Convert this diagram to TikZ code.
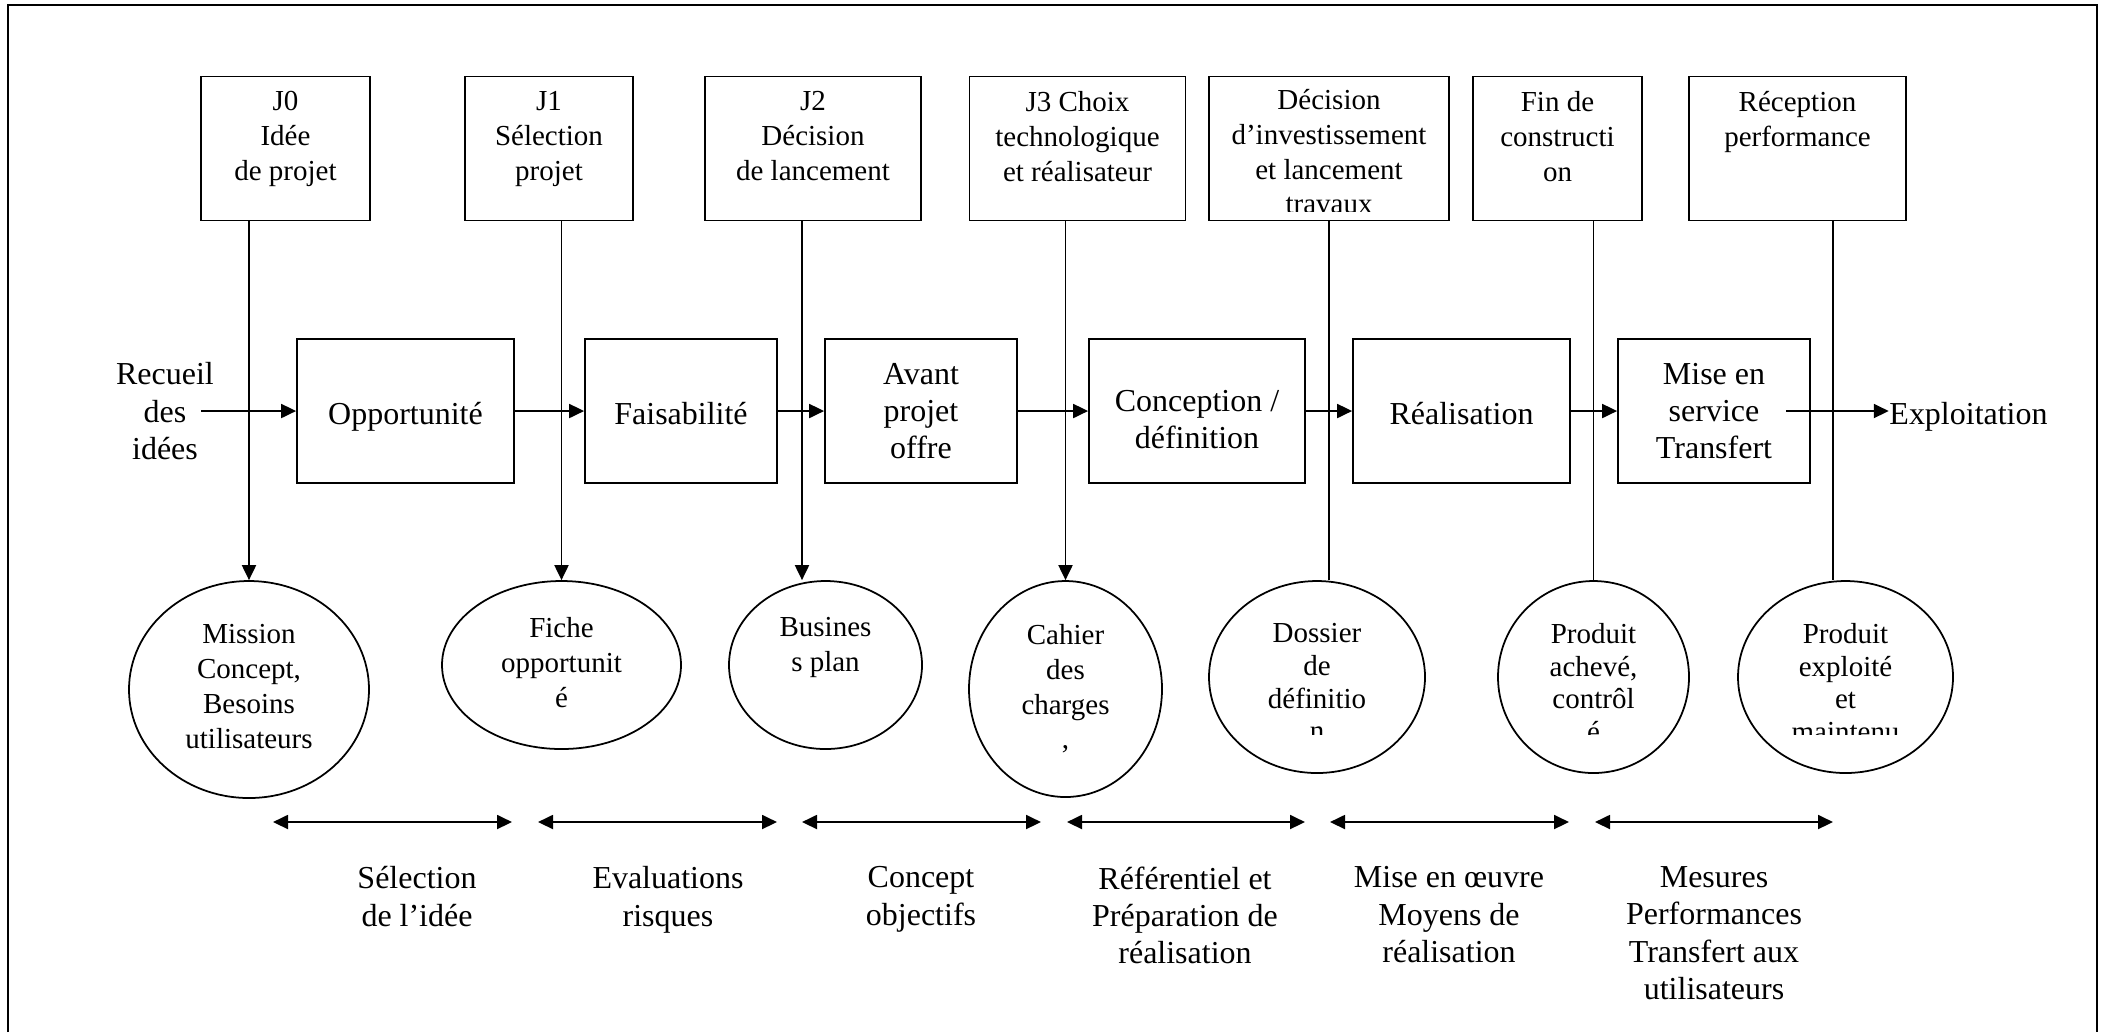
\documentclass[tikz,border=0pt]{standalone}
\usepackage{fontspec}
\setmainfont{Liberation Serif}
\usetikzlibrary{shapes.geometric,arrows.meta}

\newcommand{\smallsize}{\fontsize{8.25}{9.9}\selectfont}
\newcommand{\tightsize}{\fontsize{8.25}{9.3}\selectfont}
\newcommand{\bigsize}{\fontsize{9.1}{10.6}\selectfont}

\begin{document}
\begin{tikzpicture}[
			gate/.style={rectangle, draw, line width=0.5pt, minimum height=1.44cm, inner sep=0pt},
			phase/.style={rectangle, draw, line width=0.5pt, minimum height=1.44cm, inner sep=0pt, align=center, font=\bigsize, text depth=0pt, execute at begin node=\strut},
			deliv/.style={ellipse, draw, line width=0.5pt, inner sep=0pt},
			boxtext/.style={anchor=north, align=center, inner sep=0pt, font=\smallsize, execute at begin node=\strut},
			bigtext/.style={align=center, inner sep=0pt, font=\bigsize, text depth=0pt, execute at begin node=\strut},
			flow/.style={line width=0.55pt, -{Triangle[length=0.15cm, width=0.14cm]}},
			span/.style={line width=0.55pt, {Triangle[length=0.15cm, width=0.14cm]}-{Triangle[length=0.15cm, width=0.14cm]}}
			]
			
			\useasboundingbox (0,0) rectangle (21.07,-10.32);
			
			% Frame
			\draw[line width=0.6pt] (0.08,-10.32) |- (20.97,-0.05) -- (20.97,-10.32);
			
			% Milestones
			\node[gate, minimum width=1.69cm] (j0) at (2.855,-1.485) {};
			\node[gate, minimum width=1.68cm] (j1) at (5.49,-1.485) {};
			\node[gate, minimum width=2.16cm] (j2) at (8.13,-1.485) {};
			\node[gate, minimum width=2.16cm] (j3) at (10.775,-1.485) {};
			\node[gate, minimum width=2.40cm] (j4) at (13.29,-1.485) {};
			\node[gate, minimum width=1.69cm] (j5) at (15.575,-1.485) {};
			\node[gate, minimum width=2.17cm] (j6) at (17.975,-1.485) {};
			
			\node[boxtext] (j0t) at ([yshift=-0.15cm]j0.north) {J0\\Idée\\de projet};
			\node[boxtext] (j1t) at ([yshift=-0.15cm]j1.north) {J1\\Sélection\\projet};
			\node[boxtext] (j2t) at ([yshift=-0.15cm]j2.north) {J2\\Décision\\de lancement};
			\node[boxtext] (j3t) at ([yshift=-0.15cm]j3.north) {J3 Choix\\technologique\\et réalisateur};
			\begin{scope}
				\clip (12.1,-0.8) rectangle (14.4,-2.11);
				\node[boxtext] (j4t) at ([yshift=-0.13cm]j4.north) {Décision\\d’investissement\\et lancement\\travaux};
			\end{scope}
			\node[boxtext] (j5t) at ([yshift=-0.15cm]j5.north) {Fin de\\constructi\\on};
			\node[boxtext] (j6t) at ([yshift=-0.15cm]j6.north) {Réception\\performance};
			
			% Phases
			\node[bigtext] (rec) at (1.65,-4.11) {Recueil\\des\\idées};
			\node[phase, minimum width=2.17cm] (opp) at (4.055,-4.11) {Opportunité};
			\node[phase, minimum width=1.92cm] (fais) at (6.81,-4.11) {Faisabilité};
			\node[phase, minimum width=1.92cm] (avp) at (9.21,-4.11) {Avant\\projet\\offre};
			\node[phase, minimum width=2.16cm] (conc) at (11.97,-4.11) {\mbox{}\\Conception /\\définition};
			\node[phase, minimum width=2.17cm] (real) at (14.615,-4.11) {Réalisation};
			\node[phase, minimum width=1.92cm] (mes) at (17.14,-4.11) {Mise en\\service\\Transfert};
			\node[bigtext] (expl) at (19.685,-4.11) {Exploitation};
			
			\coordinate (in) at (2.01,-4.11);
			\coordinate (out) at (17.86,-4.11);
			\draw[flow] (in) -- (opp.west);
			\draw[flow] (opp) -- (fais);
			\draw[flow] (fais) -- (avp);
			\draw[flow] (avp) -- (conc);
			\draw[flow] (conc) -- (real);
			\draw[flow] (real) -- (mes);
			\draw[flow] (out) -- (out -| expl.west);
			
			% Deliverables
			\node[deliv, minimum width=2.40cm, minimum height=2.17cm] (e0) at (2.49,-6.895) {};
			\node[deliv, minimum width=2.39cm, minimum height=1.68cm] (e1) at (5.615,-6.65) {};
			\node[deliv, minimum width=1.93cm, minimum height=1.68cm] (e2) at (8.255,-6.65) {};
			\node[deliv, minimum width=1.93cm, minimum height=2.16cm] (e3) at (10.655,-6.89) {};
			\node[deliv, minimum width=2.16cm, minimum height=1.92cm] (e4) at (13.17,-6.77) {};
			\node[deliv, minimum width=1.91cm, minimum height=1.92cm] (e5) at (15.935,-6.77) {};
			\node[deliv, minimum width=2.15cm, minimum height=1.92cm] (e6) at (18.455,-6.77) {};
			
			\node[boxtext] (e0t) at ([yshift=-0.436cm]e0.north) {Mission\\Concept,\\Besoins\\utilisateurs};
			\node[boxtext] (e1t) at ([yshift=-0.366cm]e1.north) {Fiche\\opportunit\\é};
			\node[boxtext] (e2t) at ([yshift=-0.366cm]e2.north) {Busines\\s plan};
			\node[boxtext] (e3t) at ([yshift=-0.436cm]e3.north) {Cahier\\des\\charges\\,};
			\begin{scope}
				\clip (12,-5.8) rectangle (19.6,-7.345);
				\node[boxtext, font=\tightsize] (e4t) at ([yshift=-0.426cm]e4.north) {Dossier\\de\\définitio\\n};
				\node[boxtext, font=\tightsize] (e5t) at ([yshift=-0.426cm]e5.north) {Produit\\achevé,\\contrôl\\é};
				\node[boxtext, font=\tightsize] (e6t) at ([yshift=-0.426cm]e6.north) {Produit\\exploité\\et\\maintenu};
			\end{scope}
			
			% Milestone to deliverable
			\coordinate (c2) at (8.02,0);
			\coordinate (c6) at (18.33,0);
			\draw[flow] (e0.north |- j0.south) -- (e0.north);
			\draw[flow] (e1.north |- j1.south) -- (e1.north);
			\draw[flow] (c2 |- j2.south) -- (c2 |- e2.north);
			\draw[flow] (e3.north |- j3.south) -- (e3.north);
			\draw[line width=0.55pt] (j4.south) -- (j4.south |- e4.north);
			\draw[line width=0.55pt] (e5.north |- j5.south) -- (e5.north);
			\draw[line width=0.55pt] (c6 |- j6.south) -- (c6 |- e6.north);
			
			% Spans
			\coordinate (s1a) at (2.73,-8.22);
			\coordinate (s1b) at (5.12,-8.22);
			\coordinate (s2a) at (5.38,-8.22);
			\coordinate (s2b) at (7.77,-8.22);
			\coordinate (s3a) at (8.02,-8.22);
			\coordinate (s3b) at (10.41,-8.22);
			\coordinate (s4a) at (10.67,-8.22);
			\coordinate (s4b) at (13.05,-8.22);
			\coordinate (s5a) at (13.30,-8.22);
			\coordinate (s5b) at (15.69,-8.22);
			\coordinate (s6a) at (15.95,-8.22);
			\coordinate (s6b) at (18.33,-8.22);
			\draw[span] (s1a) -- (s1b);
			\draw[span] (s2a) -- (s2b);
			\draw[span] (s3a) -- (s3b);
			\draw[span] (s4a) -- (s4b);
			\draw[span] (s5a) -- (s5b);
			\draw[span] (s6a) -- (s6b);
			
			\node[bigtext, anchor=north] (l1) at (4.17,-8.66) {Sélection\\de l’idée};
			\node[bigtext, anchor=north] (l2) at (6.68,-8.66) {Evaluations\\risques};
			\node[bigtext, anchor=north] (l3) at (9.21,-8.66) {Concept\\objectifs};
			\node[bigtext, anchor=north] (l4) at (11.85,-8.66) {Référentiel et\\Préparation de\\réalisation};
			\node[bigtext, anchor=north] (l5) at (14.49,-8.66) {Mise en œuvre\\Moyens de\\réalisation};
			\node[bigtext, anchor=north] (l6) at (17.14,-8.66) {Mesures\\Performances\\Transfert aux\\utilisateurs};
			
		\end{tikzpicture}
\end{document}
